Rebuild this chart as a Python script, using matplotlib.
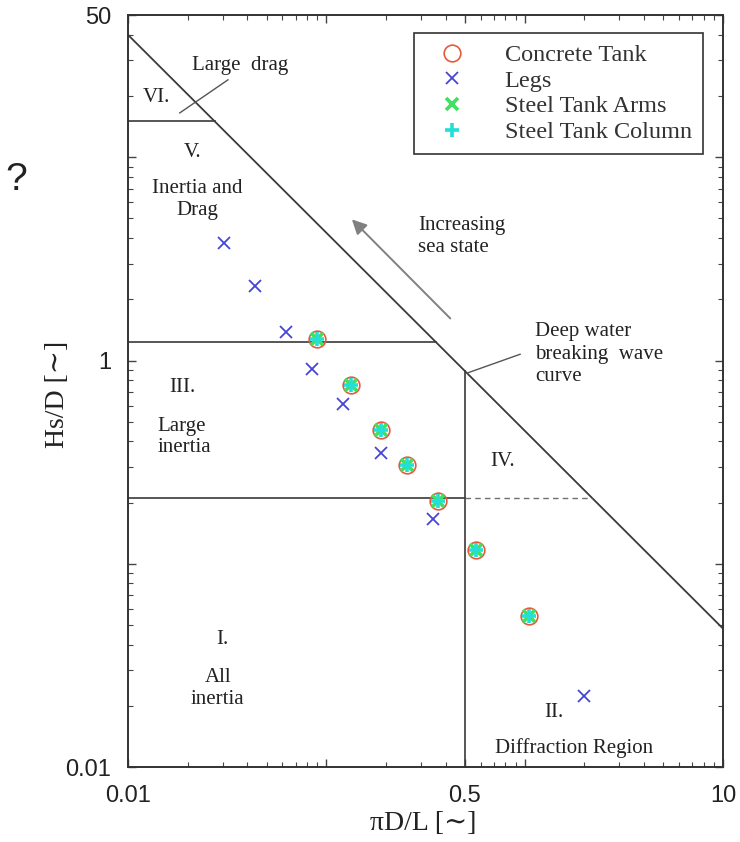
import numpy as np
import matplotlib
matplotlib.use("Agg")
import matplotlib.pyplot as plt
from matplotlib.ticker import LogLocator, NullFormatter

# Wave force regimes (Chakrabarti type diagram) with the structure members
legs_kd = [0.0305, 0.0437, 0.0624, 0.0847, 0.1218, 0.1887, 0.346, 1.99]
legs_hd = [3.77, 2.33, 1.375, 0.907, 0.608, 0.349, 0.166, 0.0224]

# concrete tank, steel tank arms and steel tank column sit on the same points
tank_kd = [0.090, 0.133, 0.1887, 0.254, 0.366, 0.568, 1.046]
tank_hd = [1.27, 0.757, 0.455, 0.306, 0.203, 0.117, 0.0553]

# deep water breaking wave curve (end points on the axes limits)
break_kd = [0.01, 10]
break_hd = [40, 0.048]

# region boundaries
kd_diffraction = 0.5
hd_drag_large = 15.0
hd_drag = 1.23
hd_inertia = 0.21

xticks = [0.01, 0.1, 0.5, 1, 10]
xticklabels = ["0.01", "", "0.5", "", "10"]
yticks = [0.01, 0.1, 1, 10, 50]
yticklabels = ["0.01", "", "1", "", "50"]

serif = ["Liberation Serif", "DejaVu Serif"]
sans = ["Liberation Sans", "DejaVu Sans"]
line_c = "#3a3a3a"


def break_y(x):
    b = np.polyfit(np.log10(break_kd), np.log10(break_hd), 1)
    return 10 ** np.polyval(b, np.log10(x))


def break_x(y):
    b = np.polyfit(np.log10(break_hd), np.log10(break_kd), 1)
    return 10 ** np.polyval(b, np.log10(y))


fig = plt.figure(figsize=(7.4, 8.42), dpi=100)
ax = fig.add_axes([0.173, 0.089, 0.804, 0.893])
ax.set_xscale("log")
ax.set_yscale("log")
ax.set_xlim(0.01, 10)
ax.set_ylim(0.01, 50)

# boundaries
ax.plot(break_kd, break_hd, color=line_c, lw=1.3)
ax.plot([kd_diffraction, kd_diffraction], [0.01, break_y(kd_diffraction)], color=line_c, lw=1.2)
ax.plot([0.01, break_x(hd_drag_large)], [hd_drag_large, hd_drag_large], color=line_c, lw=1.2)
ax.plot([0.01, break_x(hd_drag)], [hd_drag, hd_drag], color=line_c, lw=1.2)
ax.plot([0.01, kd_diffraction], [hd_inertia, hd_inertia], color=line_c, lw=1.2)
ax.plot([kd_diffraction, break_x(hd_inertia)], [hd_inertia, hd_inertia],
        color="#707070", lw=1.0, ls=(0, (4, 3)))

# data
ax.plot(tank_kd, tank_hd, ls="none", marker="o", ms=12, mfc="none", mec="#e65a3c",
        mew=1.2, label="Concrete Tank")
ax.plot(legs_kd, legs_hd, ls="none", marker="x", ms=9, mec="#4545d8", mew=1.3, label="Legs")
ax.plot(tank_kd, tank_hd, ls="none", marker="x", ms=8, mec="#40e060", mew=2.6,
        label="Steel Tank Arms")
ax.plot(tank_kd, tank_hd, ls="none", marker="+", ms=10, mec="#22e0d8", mew=2.6,
        label="Steel Tank Column")

# region texts (axes fraction)
tk = dict(transform=ax.transAxes, family=serif, fontsize=15, color="#222222")
ax.text(0.188, 0.933, "Large  drag", ha="center", va="center", **tk)
ax.text(0.047, 0.891, "VI.", ha="center", va="center", **tk)
ax.text(0.108, 0.818, "V.", ha="center", va="center", **tk)
ax.text(0.116, 0.755, "Inertia and\nDrag", ha="center", va="center", linespacing=1.2, **tk)
ax.text(0.092, 0.505, "III.", ha="center", va="center", **tk)
ax.text(0.049, 0.439, "Large\ninertia", ha="left", va="center", linespacing=1.2, **tk)
ax.text(0.629, 0.406, "IV.", ha="center", va="center", **tk)
ax.text(0.158, 0.169, "I.", ha="center", va="center", **tk)
ax.text(0.151, 0.105, "All\ninertia", ha="center", va="center", linespacing=1.2, **tk)
ax.text(0.716, 0.072, "II.", ha="center", va="center", **tk)
ax.text(0.750, 0.025, "Diffraction Region", ha="center", va="center", **tk)
ax.text(0.487, 0.706, "Increasing\nsea state", ha="left", va="center", linespacing=1.2, **tk)
ax.text(0.684, 0.549, "Deep water\nbreaking  wave\ncurve", ha="left", va="center",
        linespacing=1.25, **tk)

# pointer lines and arrow
ax.plot([0.168, 0.087], [0.914, 0.870], transform=ax.transAxes, color="#555555", lw=1.0)
ax.plot([0.570, 0.659], [0.524, 0.549], transform=ax.transAxes, color="#555555", lw=1.0)
ax.annotate("", xy=(0.373, 0.731), xytext=(0.545, 0.594), xycoords="axes fraction",
            arrowprops=dict(arrowstyle="-|>", color="#808080", lw=1.4, mutation_scale=22))

# ticks
ax.set_xticks(xticks, xticklabels)
ax.set_yticks(yticks, yticklabels)
ax.xaxis.set_minor_locator(LogLocator(base=10, subs=np.arange(2, 10)))
ax.yaxis.set_minor_locator(LogLocator(base=10, subs=np.arange(2, 10)))
ax.xaxis.set_minor_formatter(NullFormatter())
ax.yaxis.set_minor_formatter(NullFormatter())
ax.tick_params(which="both", direction="in", top=True, right=True, color="#444444")
ax.tick_params(which="major", length=6, width=1.0, labelsize=17)
ax.tick_params(axis="x", which="major", pad=13)
ax.tick_params(axis="y", which="major", pad=12)
ax.tick_params(which="minor", length=3.5, width=0.8)
for lab in ax.get_xticklabels() + ax.get_yticklabels():
    lab.set_family(sans)
    lab.set_color("#222222")
for s in ax.spines.values():
    s.set_linewidth(1.4)
    s.set_color("#333333")

ax.set_xlabel("πD/L [∼]", family=serif, fontsize=20, color="#222222")
ax.set_ylabel("Hs/D [∼]", family=serif, fontsize=20, color="#222222")
ax.xaxis.set_label_coords(0.496, -0.058)
ax.yaxis.set_label_coords(-0.0975, 0.495)

leg = ax.legend(loc="upper right", bbox_to_anchor=(0.966, 0.976), borderaxespad=0,
                fancybox=False, edgecolor="#333333", framealpha=1,
                prop={"family": serif, "size": 17.5},
                handlelength=2.3, handletextpad=1.0, borderpad=0.45, labelspacing=0.15)
leg.get_frame().set_linewidth(1.2)
for t in leg.get_texts():
    t.set_color("#333333")

fig.text(16 / 740, 1 - 180 / 842, "?", family=sans, fontsize=28, ha="center", va="center",
         color="#222222")

fig.savefig("out.png", dpi=100)
